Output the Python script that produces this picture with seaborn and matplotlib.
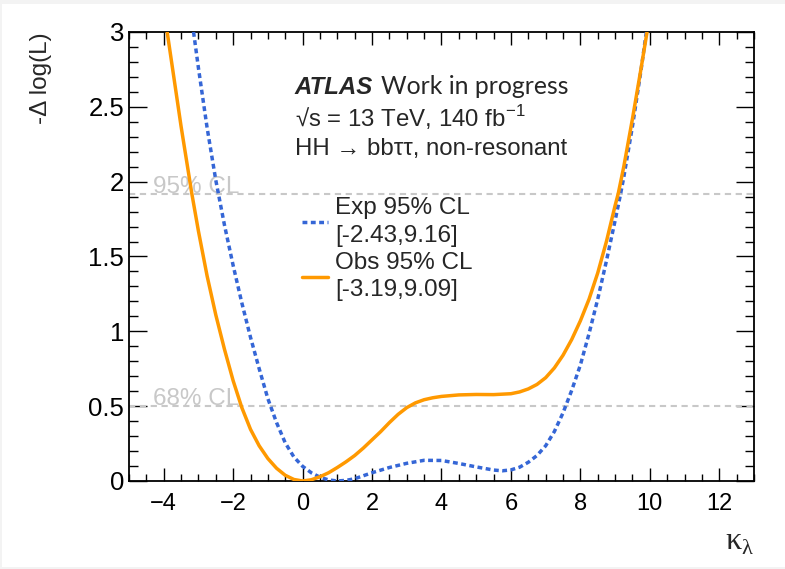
import matplotlib
matplotlib.use("Agg")
import matplotlib.pyplot as plt
from matplotlib.ticker import MultipleLocator, FormatStrFormatter
from matplotlib.patches import Rectangle
import pandas as pd
import seaborn as sns

# ---------------- data ----------------
kl_exp = [-3.14, -3.0, -2.75, -2.5, -2.25, -2.0, -1.75, -1.5, -1.25, -1.0, -0.75,
          -0.5, -0.25, 0.0, 0.25, 0.5, 0.75, 1.0, 1.25, 1.5, 2.0, 2.5, 3.0, 3.5,
          4.0, 4.5, 5.0, 5.5, 5.75, 6.0, 6.25, 6.5, 6.75, 7.0, 7.25, 7.5, 7.75,
          8.0, 8.25, 8.5, 8.75, 9.0, 9.16, 9.25, 9.5, 9.75, 9.9]
nll_exp = [3.0, 2.76, 2.36, 2.01, 1.71, 1.44, 1.19, 0.96, 0.75, 0.55, 0.39,
           0.255, 0.16, 0.098, 0.055, 0.025, 0.007, 0.0, 0.004, 0.015, 0.055, 0.09,
           0.118, 0.138, 0.137, 0.117, 0.094, 0.073, 0.068, 0.074, 0.092, 0.125,
           0.17, 0.235, 0.33, 0.455, 0.605, 0.775, 0.985, 1.215, 1.47, 1.74, 1.92,
           2.03, 2.37, 2.75, 3.0]

kl_obs = [-3.9, -3.5, -3.19, -3.0, -2.75, -2.5, -2.25, -2.0, -1.75, -1.5, -1.25,
          -1.0, -0.75, -0.5, -0.25, 0.0, 0.25, 0.5, 0.75, 1.0, 1.25, 1.5, 1.75,
          2.0, 2.25, 2.5, 2.75, 3.0, 3.25, 3.5, 3.75, 4.0, 4.5, 5.0, 5.5, 6.0,
          6.25, 6.5, 6.75, 7.0, 7.25, 7.5, 7.75, 8.0, 8.25, 8.5, 8.75, 9.0, 9.09,
          9.25, 9.5, 9.75, 9.92]
nll_obs = [3.0, 2.37, 1.92, 1.67, 1.37, 1.11, 0.88, 0.67, 0.49, 0.345, 0.235,
           0.15, 0.085, 0.038, 0.01, 0.0, 0.008, 0.028, 0.055, 0.09, 0.128, 0.17,
           0.22, 0.275, 0.33, 0.39, 0.445, 0.49, 0.522, 0.543, 0.556, 0.565,
           0.575, 0.578, 0.577, 0.583, 0.595, 0.615, 0.645, 0.69, 0.755, 0.84,
           0.945, 1.07, 1.215, 1.39, 1.60, 1.84, 1.92, 2.10, 2.42, 2.76, 3.0]

cl_levels = [0.5, 1.92]
cl_names = ["68% CL", "95% CL"]
legend_labels = ["Exp 95% CL\n[-2.43,9.16]", "Obs 95% CL\n[-3.19,9.09]"]
x_ticks = [-4, -2, 0, 2, 4, 6, 8, 10, 12]

BLUE = "#3566d6"
ORANGE = "#ff9900"
GRAY = "#c8c8c8"

# ---------------- style ----------------
sns.set_style("ticks")
plt.rcParams["font.family"] = ["Liberation Sans", "DejaVu Sans"]

fig = plt.figure(figsize=(7.85, 5.69), dpi=100)
fig.patch.set_facecolor("#f3f3f3")
fig.patches.append(Rectangle((2 / 785, 2 / 569), 783 / 785, 563 / 569,
                             transform=fig.transFigure, facecolor="white",
                             edgecolor="none", zorder=-10))
ax = fig.add_axes([0.1643, 0.1547, 0.7962, 0.7891])
ax.set_facecolor("white")

for lev, name in zip(cl_levels, cl_names):
    ax.axhline(lev, color=GRAY, lw=1.5, ls=(0, (3, 2.2)), zorder=1)
    ax.text(-4.3, lev + 0.005, name, color=GRAY, fontsize=17.5, va="baseline",
            ha="left", zorder=1)

df_exp = pd.DataFrame({"kl": kl_exp, "nll": nll_exp})
df_obs = pd.DataFrame({"kl": kl_obs, "nll": nll_obs})
sns.lineplot(data=df_exp, x="kl", y="nll", ax=ax, color=BLUE, lw=2.5,
             linestyle=(0, (1.4, 1.0)), dash_capstyle="butt",
             label=legend_labels[0], zorder=3)
sns.lineplot(data=df_obs, x="kl", y="nll", ax=ax, color=ORANGE, lw=2.5,
             label=legend_labels[1], zorder=4)

ax.set_xlim(-5, 13)
ax.set_ylim(0, 3)
ax.set_xticks(x_ticks)
ax.xaxis.set_minor_locator(MultipleLocator(0.5))
ax.yaxis.set_major_locator(MultipleLocator(0.5))
ax.yaxis.set_minor_locator(MultipleLocator(0.1))
ax.yaxis.set_major_formatter(FormatStrFormatter("%g"))

ax.tick_params(which="both", direction="in", top=True, right=True,
               colors="black", width=1.0)
ax.xaxis.set_tick_params(which="major", length=9.5, pad=8.5, labelsize=17)
ax.xaxis.set_tick_params(which="minor", length=5)
ax.yaxis.set_tick_params(which="major", length=13, pad=3.5, labelsize=18.5)
ax.yaxis.set_tick_params(which="minor", length=6.5)
for s in ax.spines.values():
    s.set_color("black")
    s.set_linewidth(1.3)

ax.set_ylabel("-Δ log(L)", fontsize=17.5, loc="top")
ax.yaxis.set_label_coords(-0.123, 1.0)
ax.set_xlabel("κ$_{\\mathregular{λ}}$", fontsize=23, loc="right",
              family=["Liberation Serif", "DejaVu Serif"])
ax.xaxis.set_label_coords(1.0, -0.105)

# annotation block
ax.text(0.2656, 0.861, "ATLAS", transform=ax.transAxes, fontsize=17.3,
        fontweight="bold", fontstyle="italic", va="baseline")
ax.text(0.404, 0.861, "Work in progress", transform=ax.transAxes,
        fontsize=17.8, family=["Lato", "DejaVu Sans"], va="baseline")
ax.text(0.2656, 0.789, "√s = 13 TeV, 140 fb$^{\\mathregular{-1}}$",
        transform=ax.transAxes, fontsize=17.3, va="baseline")
ax.text(0.2656, 0.726, "HH → bbττ, non-resonant", transform=ax.transAxes,
        fontsize=17.3, va="baseline")

leg = ax.legend(loc="upper left", bbox_to_anchor=(0.2763, 0.632), frameon=False,
                fontsize=17.5, handlelength=1.1, handletextpad=0.28,
                borderpad=0, borderaxespad=0, labelspacing=0.22)
for t in leg.get_texts():
    t.set_linespacing(1.32)

fig.savefig("out.png", dpi=100, facecolor=fig.get_facecolor())
